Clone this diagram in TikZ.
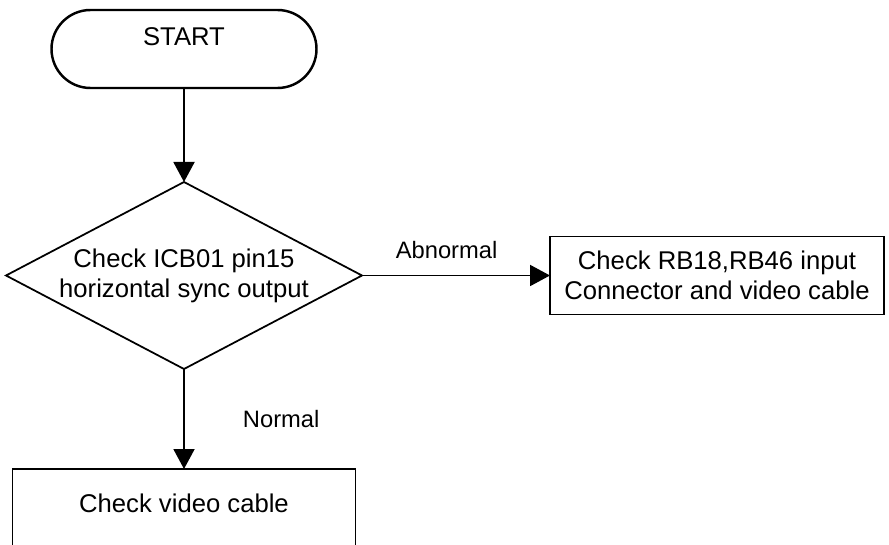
\documentclass[tikz,border=0pt]{standalone}
\usepackage{fontspec}
\setmainfont{Liberation Sans}
\usetikzlibrary{arrows.meta,positioning,shapes.geometric}
\tikzset{
    every picture/.style={line join=miter},
    termnode/.style={draw=black,line width=1.4pt,rounded corners=0.78cm,
      minimum width=5.3cm,minimum height=1.56cm,inner sep=0pt,outer sep=0pt,
      align=center,text depth=0.5cm},
    decnode/.style={draw=black,diamond,aspect=1.9,line width=1pt,
      minimum width=7.12cm,minimum height=3.74cm,inner sep=0pt,outer sep=0pt,
      align=center},
    procnode/.style={draw=black,line width=1pt,
      minimum width=6.68cm,minimum height=1.56cm,inner sep=0pt,outer sep=0pt,
      align=center},
    flowarrow/.style={-{Triangle[length=4mm,width=4.2mm]},draw=black,
      line width=1.1pt},
    edgelabel/.style={inner sep=0pt,font=\fontsize{13.5}{16}\selectfont}
}

\begin{document}
\begin{tikzpicture}[font=\fontsize{14.6}{17}\selectfont]
  \clip (0,0) rectangle (17.78,10.88);
  \node[termnode] (start) at (3.68,9.90) {START};
  \node[decnode,below=1.88cm of start] (hsync)
    {Check ICB01 pin15\\horizontal sync output};
  \node[procnode,right=3.76cm of hsync] (input)
    {Check RB18,RB46 input\\Connector and video cable};
  \node[procnode,minimum width=6.86cm,text depth=0.2cm,below=2.0cm of hsync] (cable)
    {Check video cable};

  \draw[flowarrow] (start.south)--(hsync.north);
  \draw[flowarrow] (hsync.east)--node[edgelabel,pos=0.45,above=0.32cm]{Abnormal} (input.west);
  \draw[flowarrow] (hsync.south)--node[edgelabel,right=1.16cm]{Normal} (cable.north);
\end{tikzpicture}
\end{document}
